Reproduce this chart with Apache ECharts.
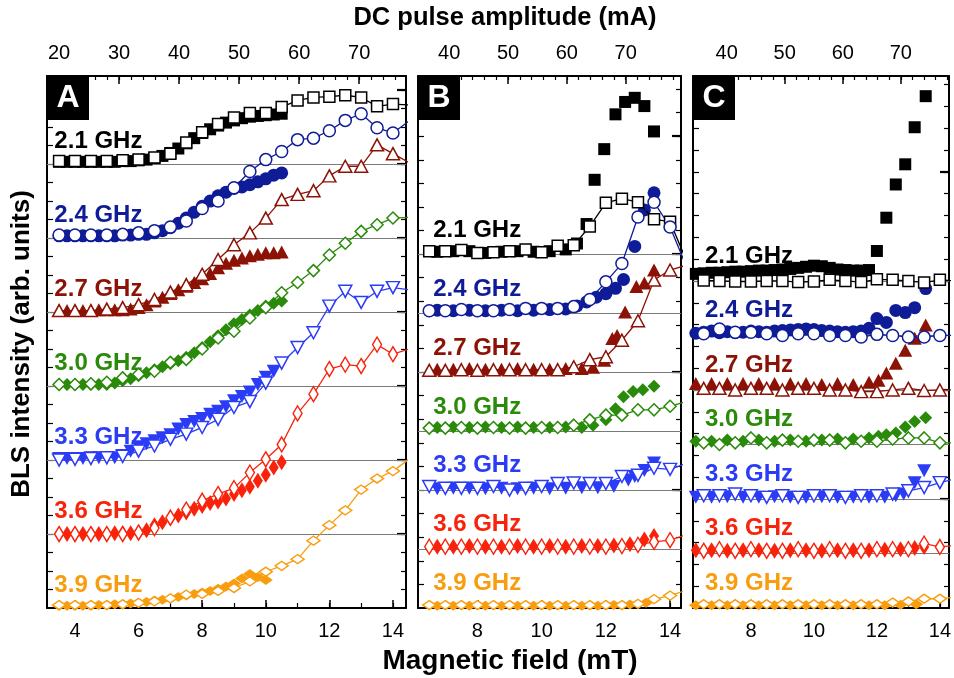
<!DOCTYPE html>
<html>
<head>
<meta charset="utf-8">
<script src="https://cdn.jsdelivr.net/npm/echarts@6/dist/echarts.min.js"></script>
<style>
  html, body { margin: 0; padding: 0; background: #fff; }
  #chart { width: 954px; height: 678px; }
</style>
</head>
<body>
<div id="chart"></div>
<script>
// frequencies, top to bottom in every panel
var freqNames = ['2.1 GHz', '2.4 GHz', '2.7 GHz', '3.0 GHz', '3.3 GHz', '3.6 GHz', '3.9 GHz'];

// panel A: open symbols vs field, filled symbols (pulse data)
var fieldA = [3.5, 4, 4.5, 5, 5.5, 6, 6.5, 7, 7.5, 8, 8.5, 9, 9.5, 10, 10.5, 11, 11.5, 12, 12.5, 13, 13.5, 14, 14.5];
var openA = [
    [0.04, 0.04, 0.04, 0.04, 0.05, 0.06, 0.09, 0.14, 0.29, 0.43, 0.54, 0.63, 0.69, 0.69, 0.77, 0.86, 0.90, 0.91, 0.93, 0.90, 0.78, 0.81, 0.80],
    [0.04, 0.04, 0.04, 0.04, 0.05, 0.07, 0.10, 0.15, 0.23, 0.40, 0.50, 0.68, 0.90, 1.06, 1.17, 1.33, 1.35, 1.45, 1.59, 1.68, 1.49, 1.42, 1.58],
    [0.02, 0.02, 0.02, 0.04, 0.06, 0.10, 0.17, 0.27, 0.37, 0.51, 0.71, 0.91, 1.07, 1.27, 1.52, 1.59, 1.64, 1.84, 1.97, 1.97, 2.26, 2.14, 2.02],
    [0.02, 0.02, 0.03, 0.05, 0.11, 0.16, 0.20, 0.32, 0.36, 0.50, 0.65, 0.74, 0.92, 1.06, 1.26, 1.40, 1.56, 1.77, 1.93, 2.09, 2.18, 2.27, 2.28],
    [0.00, 0.01, 0.02, 0.03, 0.05, 0.12, 0.19, 0.28, 0.35, 0.44, 0.55, 0.71, 0.79, 1.04, 1.31, 1.52, 1.72, 2.08, 2.28, 2.13, 2.28, 2.33, 2.30],
    [0.00, 0.00, 0.00, 0.00, 0.00, 0.02, 0.08, 0.22, 0.33, 0.45, 0.54, 0.62, 0.83, 1.01, 1.21, 1.63, 1.89, 2.23, 2.29, 2.27, 2.56, 2.43, 2.50],
    [0.04, 0.04, 0.04, 0.04, 0.05, 0.07, 0.09, 0.13, 0.18, 0.19, 0.23, 0.27, 0.36, 0.49, 0.57, 0.66, 0.91, 1.12, 1.32, 1.60, 1.75, 1.85, 2.01]
];
var fillFieldA = [3.5, 3.75, 4, 4.25, 4.5, 4.75, 5, 5.25, 5.5, 5.75, 6, 6.25, 6.5, 6.75, 7, 7.25, 7.5, 7.75, 8, 8.25, 8.5, 8.75, 9, 9.25, 9.5, 9.75, 10, 10.25, 10.5];
var fillA = [
    [0.03, 0.03, 0.03, 0.03, 0.03, 0.03, 0.03, 0.03, 0.04, 0.04, 0.05, 0.06, 0.08, 0.11, 0.15, 0.21, 0.28, 0.35, 0.42, 0.47, 0.52, 0.56, 0.59, 0.62, 0.64, 0.65, 0.66, 0.67, 0.68],
    [0.03, 0.03, 0.03, 0.03, 0.03, 0.03, 0.03, 0.03, 0.04, 0.04, 0.05, 0.05, 0.07, 0.10, 0.14, 0.20, 0.27, 0.35, 0.43, 0.50, 0.57, 0.62, 0.67, 0.69, 0.72, 0.76, 0.80, 0.85, 0.88],
    [0.02, 0.02, 0.02, 0.02, 0.02, 0.03, 0.03, 0.03, 0.03, 0.04, 0.06, 0.10, 0.15, 0.20, 0.25, 0.30, 0.35, 0.40, 0.45, 0.52, 0.60, 0.66, 0.70, 0.73, 0.76, 0.78, 0.80, 0.80, 0.81],
    [0.02, 0.02, 0.02, 0.02, 0.02, 0.02, 0.02, 0.04, 0.07, 0.10, 0.14, 0.18, 0.22, 0.26, 0.30, 0.34, 0.39, 0.45, 0.52, 0.60, 0.68, 0.76, 0.84, 0.90, 0.96, 1.02, 1.08, 1.12, 1.15],
    [0.02, 0.02, 0.02, 0.02, 0.03, 0.03, 0.03, 0.03, 0.06, 0.12, 0.18, 0.22, 0.26, 0.30, 0.34, 0.42, 0.48, 0.52, 0.56, 0.62, 0.66, 0.72, 0.80, 0.86, 0.92, 1.02, 1.12, 1.20],
    [0.00, 0.00, 0.00, 0.00, 0.00, 0.00, 0.00, 0.01, 0.01, 0.01, 0.02, 0.05, 0.12, 0.16, 0.21, 0.25, 0.29, 0.34, 0.38, 0.42, 0.44, 0.48, 0.54, 0.59, 0.64, 0.72, 0.80, 0.90, 0.97],
    [0.03, 0.03, 0.03, 0.03, 0.03, 0.04, 0.04, 0.05, 0.05, 0.06, 0.07, 0.08, 0.10, 0.11, 0.13, 0.15, 0.17, 0.19, 0.21, 0.23, 0.26, 0.29, 0.33, 0.40, 0.46, 0.42, 0.38]
];

// panels B and C share the open-symbol field steps
var fieldBC = [6.5, 7, 7.5, 8, 8.5, 9, 9.5, 10, 10.5, 11, 11.5, 12, 12.5, 13, 13.5, 14, 14.5];
var openB = [
    [0.05, 0.05, 0.07, 0.02, 0.03, 0.05, 0.08, 0.03, 0.14, 0.15, 0.47, 0.87, 0.94, 0.88, 0.59, 0.55, -0.10],
    [0.04, 0.04, 0.06, 0.04, 0.04, 0.06, 0.08, 0.08, 0.08, 0.11, 0.23, 0.53, 0.84, 1.63, 1.88, 1.46, 0.80],
    [0.03, 0.03, 0.04, 0.03, 0.04, 0.04, 0.04, 0.04, 0.04, 0.09, 0.21, 0.26, 0.54, 0.87, 1.56, 1.73, 1.81],
    [0.05, 0.05, 0.06, 0.05, 0.06, 0.05, 0.05, 0.06, 0.06, 0.10, 0.19, 0.27, 0.27, 0.36, 0.36, 0.42, 0.50],
    [0.06, 0.03, 0.03, 0.03, 0.06, 0.00, 0.03, 0.06, 0.11, 0.12, 0.11, 0.11, 0.23, 0.25, 0.37, 0.35, 0.45],
    [0.04, 0.04, 0.04, 0.04, 0.04, 0.04, 0.04, 0.04, 0.04, 0.04, 0.04, 0.04, 0.05, 0.07, 0.12, 0.15, 0.24],
    [0.05, 0.05, 0.05, 0.05, 0.05, 0.05, 0.05, 0.05, 0.05, 0.05, 0.05, 0.05, 0.05, 0.07, 0.15, 0.21, 0.30]
];
var fillB = [
    [[6.75, 0.04], [7.25, 0.05], [7.75, 0.05], [8.25, 0.02], [8.75, 0.04], [9.25, 0.05], [9.75, 0.04], [10.25, 0.05], [10.75, 0.08], [11.1, 0.18], [11.4, 0.51], [11.65, 1.26], [11.95, 1.78], [12.3, 2.37], [12.6, 2.58], [12.9, 2.65], [13.2, 2.51], [13.5, 2.08]],
    [[6.75, 0.05], [7.25, 0.04], [7.75, 0.05], [8.25, 0.04], [8.75, 0.05], [9.25, 0.04], [9.75, 0.05], [10.25, 0.06], [10.75, 0.07], [11.1, 0.12], [11.4, 0.19], [11.7, 0.27], [12.0, 0.33], [12.3, 0.42], [12.55, 0.57], [12.9, 1.13], [13.2, 1.75], [13.5, 2.04]],
    [[6.75, 0.05], [7.25, 0.05], [7.75, 0.06], [8.25, 0.05], [8.75, 0.05], [9.25, 0.06], [9.75, 0.05], [10.25, 0.05], [10.75, 0.06], [11.25, 0.06], [11.6, 0.08], [11.95, 0.20], [12.2, 0.57], [12.35, 0.62], [12.6, 1.02], [12.95, 1.45], [13.2, 1.51], [13.5, 1.73]],
    [[6.75, 0.06], [7.25, 0.07], [7.75, 0.06], [8.25, 0.07], [8.75, 0.06], [9.25, 0.07], [9.75, 0.06], [10.25, 0.06], [10.75, 0.07], [11.25, 0.06], [11.6, 0.10], [12.0, 0.19], [12.3, 0.38], [12.55, 0.58], [12.85, 0.67], [13.15, 0.70], [13.5, 0.76]],
    [[6.75, 0.02], [7.25, 0.03], [7.75, 0.03], [8.25, 0.02], [8.75, 0.03], [9.25, 0.02], [9.75, 0.03], [10.25, 0.02], [10.75, 0.03], [11.25, 0.04], [11.75, 0.04], [12.25, 0.06], [12.7, 0.17], [12.9, 0.23], [13.2, 0.33], [13.5, 0.46]],
    [[6.75, 0.04], [7.25, 0.04], [7.75, 0.05], [8.25, 0.04], [8.75, 0.04], [9.25, 0.05], [9.75, 0.04], [10.25, 0.05], [10.75, 0.04], [11.25, 0.05], [11.75, 0.05], [12.25, 0.06], [12.75, 0.08], [13.2, 0.16], [13.5, 0.22]],
    [[6.75, 0.04], [7.25, 0.04], [7.75, 0.04], [8.25, 0.04], [8.75, 0.04], [9.25, 0.04], [9.75, 0.04], [10.25, 0.04], [10.75, 0.04], [11.25, 0.04], [11.75, 0.04], [12.25, 0.05], [12.75, 0.06], [13.25, 0.09]]
];

var openC = [
    [0.01, 0.00, -0.01, -0.01, 0.00, 0.00, -0.02, -0.01, 0.02, 0.00, -0.02, 0.03, 0.02, 0.00, -0.03, 0.02, 0.00],
    [0.03, 0.12, 0.06, 0.06, 0.03, 0.00, 0.03, 0.03, 0.00, 0.00, -0.03, 0.02, 0.00, -0.03, -0.03, 0.00, 0.00],
    [0.03, 0.03, 0.00, 0.03, 0.03, 0.00, 0.03, 0.03, 0.00, 0.00, -0.03, -0.03, 0.00, 0.03, -0.01, 0.00, 0.00],
    [0.03, 0.00, 0.03, 0.12, 0.03, 0.08, 0.06, 0.08, 0.08, 0.03, 0.06, 0.06, 0.10, 0.12, 0.12, 0.03, 0.03],
    [0.06, 0.06, 0.09, 0.06, 0.03, 0.06, 0.03, 0.06, 0.06, 0.03, 0.06, 0.06, 0.09, 0.15, 0.21, 0.30, 0.37],
    [0.05, 0.08, 0.05, 0.08, 0.05, 0.05, 0.08, 0.05, 0.08, 0.05, 0.05, 0.08, 0.08, 0.08, 0.18, 0.12, 0.15],
    [0.07, 0.07, 0.07, 0.07, 0.07, 0.07, 0.07, 0.07, 0.07, 0.07, 0.07, 0.07, 0.10, 0.12, 0.17, 0.17, 0.20]
];
var fillC = [
    [[6.25, 0.13], [6.5, 0.14], [6.75, 0.15], [7.0, 0.15], [7.25, 0.16], [7.5, 0.17], [7.75, 0.17], [8.0, 0.18], [8.25, 0.19], [8.5, 0.19], [8.75, 0.20], [9.0, 0.21], [9.25, 0.22], [9.5, 0.24], [9.75, 0.26], [10.0, 0.28], [10.25, 0.27], [10.5, 0.24], [10.75, 0.21], [11.0, 0.20], [11.25, 0.19], [11.5, 0.19], [11.75, 0.20], [12.0, 0.55], [12.3, 1.16], [12.6, 1.77], [12.9, 2.14], [13.2, 2.82], [13.55, 3.39]],
    [[6.25, 0.04], [6.5, 0.06], [6.75, 0.08], [7.0, 0.05], [7.25, 0.07], [7.5, 0.05], [7.75, 0.06], [8.0, 0.08], [8.25, 0.07], [8.5, 0.06], [8.75, 0.08], [9.0, 0.09], [9.25, 0.10], [9.5, 0.11], [9.75, 0.12], [10.0, 0.11], [10.25, 0.09], [10.5, 0.08], [10.75, 0.07], [11.0, 0.06], [11.25, 0.07], [11.5, 0.08], [11.75, 0.13], [12.0, 0.31], [12.3, 0.24], [12.6, 0.46], [12.9, 0.42], [13.2, 0.51], [13.55, 0.86]],
    [[6.25, 0.12], [6.75, 0.12], [7.25, 0.12], [7.75, 0.12], [8.25, 0.12], [8.75, 0.12], [9.25, 0.12], [9.75, 0.12], [10.25, 0.10], [10.75, 0.12], [11.25, 0.10], [11.75, 0.14], [12.05, 0.18], [12.3, 0.31], [12.6, 0.49], [12.9, 0.73], [13.2, 0.95], [13.55, 1.19]],
    [[6.25, 0.06], [6.75, 0.06], [7.25, 0.08], [7.75, 0.06], [8.25, 0.08], [8.75, 0.06], [9.25, 0.08], [9.75, 0.06], [10.25, 0.08], [10.75, 0.10], [11.25, 0.10], [11.75, 0.12], [12.05, 0.15], [12.3, 0.18], [12.6, 0.21], [12.9, 0.32], [13.2, 0.42], [13.55, 0.49]],
    [[6.25, 0.03], [6.75, 0.03], [7.25, 0.04], [7.75, 0.03], [8.25, 0.03], [8.75, 0.04], [9.25, 0.03], [9.75, 0.03], [10.25, 0.04], [10.75, 0.03], [11.25, 0.03], [11.75, 0.03], [12.25, 0.03], [12.6, 0.06], [12.85, 0.09], [13.2, 0.30], [13.5, 0.52]],
    [[6.25, 0.06], [6.75, 0.06], [7.25, 0.05], [7.75, 0.06], [8.25, 0.06], [8.75, 0.05], [9.25, 0.06], [9.75, 0.06], [10.25, 0.05], [10.75, 0.06], [11.25, 0.06], [11.75, 0.06], [12.25, 0.07], [12.75, 0.08], [13.2, 0.10], [13.5, 0.12]],
    [[6.25, 0.05], [6.75, 0.05], [7.25, 0.05], [7.75, 0.05], [8.25, 0.05], [8.75, 0.05], [9.25, 0.05], [9.75, 0.05], [10.25, 0.05], [10.75, 0.05], [11.25, 0.05], [11.75, 0.05], [12.25, 0.05], [12.75, 0.06], [13.25, 0.07]]
];

// tick labels
var fieldLabelsA = [4, 6, 8, 10, 12, 14];
var fieldLabelsBC = [8, 10, 12, 14];
var currentLabelsA = [20, 30, 40, 50, 60, 70];
var currentLabelsBC = [40, 50, 60, 70];

// styles
var colors = ['#000000', '#0f1c98', '#8c1206', '#2a8a0a', '#2a3cf6', '#f8230a', '#f89d0e'];
var symbols = ['rect', 'circle', 'triangle', 'diamond', 'triangle', 'diamond', 'diamond'];
var openSizes = [11, 12, [13, 12], [12, 12], [13, 12], [9, 15], [13, 9]];
var fillSizes = [12, 13, [14, 13], [13, 13], [14, 13], [10, 16], [14, 10]];
var symbolRotates = [0, 0, 0, 0, 180, 0, 0];

var NARROW = '"Liberation Sans Narrow", "Liberation Sans", Arial, sans-serif';
var BOLDF = '"Liberation Sans", Arial, sans-serif';

function steps(a, b, s) {
    var out = [];
    for (var v = a; v <= b + 1e-9; v += s) out.push(Math.round(v * 1000) / 1000);
    return out;
}

function toPairs(xs, ys) {
    return ys.map(function (y, i) { return [xs[i], y]; });
}

var panels = [
    {
        letter: 'A', left: 47, width: 359, xMin: 3.12, xMax: 14.41, tMin: 18, tMax: 77.8, yMax: 7.19,
        fieldLabels: fieldLabelsA, fieldMinor: steps(4, 14, 1), currentLabels: currentLabelsA, currentMinor: steps(20, 76, 2),
        yMajor: steps(1, 7, 1), yMinor: steps(0.25, 7, 0.25),
        openX: fieldA, open: openA,
        fill: fillA.map(function (ys) { return toPairs(fillFieldA, ys); }),
        labelX: 3.35, labelOff: 0.31
    },
    {
        letter: 'B', left: 418, width: 263, xMin: 6.15, xMax: 14.34, tMin: 34.7, tMax: 79.4, yMax: 9.02,
        fieldLabels: fieldLabelsBC, fieldMinor: steps(7, 14, 1), currentLabels: currentLabelsBC, currentMinor: steps(36, 78, 2),
        yMajor: steps(2, 8, 2), yMinor: steps(0.4, 8.8, 0.4),
        openX: fieldBC, open: openB, fill: fillB,
        labelX: 6.62, labelOff: 0.41
    },
    {
        letter: 'C', left: 693, width: 260, xMin: 6.16, xMax: 14.29, tMin: 34.2, tMax: 78.3, yMax: 9.76,
        fieldLabels: fieldLabelsBC, fieldMinor: steps(7, 14, 1), currentLabels: currentLabelsBC, currentMinor: steps(36, 78, 2),
        yMajor: steps(2, 8, 2), yMinor: steps(0.4, 9.6, 0.4),
        openX: fieldBC, open: openC, fill: fillC,
        labelX: 6.54, labelOff: 0.46
    }
];

function mkAxis(gi, pos, min, max, ticks, tickLen, tickW, labels, showLine) {
    return {
        type: 'value', gridIndex: gi, position: pos, min: min, max: max,
        axisLine: { show: showLine, onZero: false, lineStyle: { color: '#000', width: 2 } },
        axisTick: { show: true, inside: true, length: tickLen, customValues: ticks, lineStyle: { color: '#000', width: tickW } },
        axisLabel: labels ? { show: true, customValues: labels, fontFamily: NARROW, fontSize: 20, color: '#000', margin: 13 } : { show: false },
        splitLine: { show: false },
        axisPointer: { show: false }
    };
}

var grids = [], xAxes = [], yAxes = [], series = [], graphics = [];

panels.forEach(function (p, gi) {
    grids.push({ left: p.left, width: p.width, top: 76, height: 532 });

    // x axes: bottom major/minor (field), top major/minor (current)
    xAxes.push(mkAxis(gi, 'bottom', p.xMin, p.xMax, p.fieldLabels, 8, 1.5, p.fieldLabels, true));
    xAxes.push(mkAxis(gi, 'bottom', p.xMin, p.xMax, p.fieldMinor, 5, 1.2, null, false));
    xAxes.push(mkAxis(gi, 'top', p.tMin, p.tMax, p.currentLabels, 8, 1.5, p.currentLabels, true));
    xAxes.push(mkAxis(gi, 'top', p.tMin, p.tMax, p.currentMinor, 4, 1.2, null, false));

    // y axes: left ticks, right major/minor
    yAxes.push(mkAxis(gi, 'left', 0, p.yMax, p.yMinor, 6, 1.2, null, true));
    yAxes.push(mkAxis(gi, 'right', 0, p.yMax, p.yMajor, 9, 2.2, null, true));
    yAxes.push(mkAxis(gi, 'right', 0, p.yMax, p.yMinor, 5, 1.2, null, false));

    var xi = gi * 4, yi = gi * 3;

    // frequency labels + grey baselines
    series.push({
        type: 'scatter', xAxisIndex: xi, yAxisIndex: yi, z: 1, silent: true,
        symbolSize: 0.1, itemStyle: { color: 'rgba(0,0,0,0)', opacity: 1 },
        data: freqNames.map(function (n, f) {
            return { name: n, value: [p.labelX, 6 - f + p.labelOff], label: { color: colors[f] } };
        }),
        label: {
            show: true, position: 'right', distance: 0, formatter: '{b}', opacity: 1,
            fontFamily: BOLDF, fontWeight: 'bold', fontSize: 24
        },
        markLine: {
            silent: true, z: 1, symbol: ['none', 'none'], label: { show: false },
            lineStyle: { color: '#7a7a7a', width: 1.2, type: 'solid', opacity: 1 },
            data: [1, 2, 3, 4, 5, 6].map(function (v) { return { yAxis: v }; })
        }
    });

    freqNames.forEach(function (n, f) {
        var off = 6 - f;
        series.push({
            name: n + ' pulse', type: 'scatter', xAxisIndex: xi, yAxisIndex: yi, z: 2,
            symbol: symbols[f], symbolSize: fillSizes[f], symbolRotate: symbolRotates[f],
            itemStyle: { color: colors[f], opacity: 1 },
            data: p.fill[f].map(function (d) { return [d[0], d[1] + off]; })
        });
    });
    freqNames.forEach(function (n, f) {
        var off = 6 - f;
        series.push({
            name: n, type: 'line', xAxisIndex: xi, yAxisIndex: yi, z: 3,
            symbol: symbols[f], symbolSize: openSizes[f], symbolRotate: symbolRotates[f],
            showSymbol: true, showAllSymbol: true,
            itemStyle: { color: '#fff', borderColor: colors[f], borderWidth: 1.5, opacity: 1 },
            lineStyle: { color: colors[f], width: 1.3 },
            data: p.open[f].map(function (v, i) { return [p.openX[i], v + off]; })
        });
    });

    // panel letter box
    graphics.push({ type: 'rect', z: 100, shape: { x: p.left, y: 75, width: 42, height: 45 }, style: { fill: '#000' } });
    graphics.push({
        type: 'text', z: 101, x: p.left + 21, y: 98,
        style: { text: p.letter, fill: '#fff', font: 'bold 32px ' + BOLDF, align: 'center', verticalAlign: 'middle' }
    });
});

graphics.push({
    type: 'text', x: 505, y: 18,
    style: { text: 'DC pulse amplitude (mA)', fill: '#000', font: 'bold 25.5px ' + NARROW, align: 'center', verticalAlign: 'middle' }
});
graphics.push({
    type: 'text', x: 510, y: 661,
    style: { text: 'Magnetic field (mT)', fill: '#000', font: 'bold 28px ' + NARROW, align: 'center', verticalAlign: 'middle' }
});
graphics.push({
    type: 'text', x: 22, y: 344, rotation: Math.PI / 2,
    style: { text: 'BLS intensity (arb. units)', fill: '#000', font: 'bold 26px ' + NARROW, align: 'center', verticalAlign: 'middle' }
});

var chart = echarts.init(document.getElementById('chart'), null, { renderer: 'canvas' });
chart.setOption({
    animation: false,
    backgroundColor: '#fff',
    grid: grids,
    xAxis: xAxes,
    yAxis: yAxes,
    series: series,
    graphic: graphics
});
window.addEventListener('resize', chart.resize);
</script>
</body>
</html>
